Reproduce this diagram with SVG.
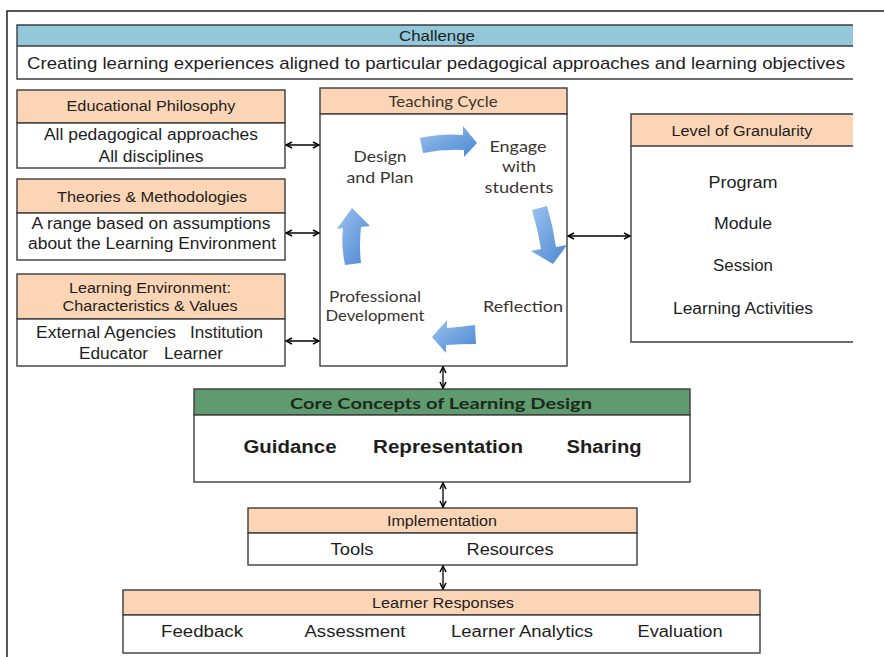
<svg xmlns="http://www.w3.org/2000/svg" width="884" height="657" viewBox="0 0 884 657">
<style>
.box{stroke:#3c3c3c;stroke-width:1.4;fill:#fff}
.peach{fill:#fbd5b5;stroke:#3c3c3c;stroke-width:1.4}
.ln{stroke:#3c3c3c;stroke-width:1.4;fill:none}
.t{font-family:"Liberation Sans",Arial,sans-serif;fill:#1e1e1e;text-anchor:middle}
.s{text-anchor:start}
.h{font-size:14px}
.b{font-size:16px}
.c{font-family:Lato,"Noto Sans",sans-serif;fill:#3a3530;font-size:16px;text-anchor:middle}
.bold{font-weight:bold;font-size:18px}
.con{stroke:#000;stroke-width:1.3;fill:none;marker-start:url(#ah);marker-end:url(#ah)}
.cyc{fill:url(#blue)}
</style>
<defs>
<marker id="ah" viewBox="0 0 8 8" refX="7" refY="4" markerWidth="8" markerHeight="8" markerUnits="userSpaceOnUse" orient="auto-start-reverse">
<path d="M1,1 L7,4 L1,7" fill="none" stroke="#000" stroke-width="1.5"/>
</marker>
<linearGradient id="blue" x1="0" y1="0" x2="1" y2="1">
<stop offset="0" stop-color="#9cc2ee"/>
<stop offset="1" stop-color="#4a86d2"/>
</linearGradient>
</defs>
<rect width="884" height="657" fill="#fff"/>
<path d="M884,11 H7 V657" fill="none" stroke="#222" stroke-width="1.5"/>

<g id="challenge">
<rect x="17" y="25" width="836" height="21" fill="#93c8da"/>
<rect x="17" y="46" width="836" height="33" fill="#fff"/>
<path class="ln" d="M853,25 H17 V79 H853 M17,46 H853"/>
<text class="t h" x="437" y="41" textLength="76" lengthAdjust="spacingAndGlyphs">Challenge</text>
<text class="t s" x="27" y="69" font-size="17" textLength="818" lengthAdjust="spacingAndGlyphs">Creating learning experiences aligned to particular pedagogical approaches and learning objectives</text>
</g>

<g id="educational-philosophy">
<rect class="peach" x="17" y="90" width="268" height="33"/>
<rect class="box" x="17" y="123" width="268" height="45"/>
<text class="t h" x="151" y="111" textLength="169" lengthAdjust="spacingAndGlyphs">Educational Philosophy</text>
<text class="t b" x="151" y="140" textLength="214" lengthAdjust="spacingAndGlyphs">All pedagogical approaches</text>
<text class="t b" x="151" y="162" textLength="105" lengthAdjust="spacingAndGlyphs">All disciplines</text>
</g>

<g id="theories">
<rect class="peach" x="17" y="179" width="268" height="34"/>
<rect class="box" x="17" y="213" width="268" height="47"/>
<text class="t h" x="152" y="202" textLength="190" lengthAdjust="spacingAndGlyphs">Theories &amp; Methodologies</text>
<text class="t b" x="151" y="229" textLength="239" lengthAdjust="spacingAndGlyphs">A range based on assumptions</text>
<text class="t b" x="152" y="249" textLength="248" lengthAdjust="spacingAndGlyphs">about the Learning Environment</text>
</g>

<g id="learning-environment">
<rect class="peach" x="17" y="274" width="268" height="45"/>
<rect class="box" x="17" y="319" width="268" height="47"/>
<text class="t h" x="150" y="293" textLength="162" lengthAdjust="spacingAndGlyphs">Learning Environment:</text>
<text class="t h" x="150" y="311" textLength="175" lengthAdjust="spacingAndGlyphs">Characteristics &amp; Values</text>
<text class="t b s" x="36" y="338" textLength="140" lengthAdjust="spacingAndGlyphs">External Agencies</text>
<text class="t b s" x="190" y="338" textLength="73" lengthAdjust="spacingAndGlyphs">Institution</text>
<text class="t b s" x="79" y="359" textLength="69" lengthAdjust="spacingAndGlyphs">Educator</text>
<text class="t b s" x="164" y="359" textLength="59" lengthAdjust="spacingAndGlyphs">Learner</text>
</g>

<g id="teaching-cycle">
<rect class="peach" x="320" y="88" width="247" height="26"/>
<rect class="box" x="320" y="114" width="247" height="252"/>
<text class="c" x="443" y="107" font-size="15" fill="#222" textLength="109" lengthAdjust="spacingAndGlyphs">Teaching Cycle</text>
<text class="c" x="380" y="162" textLength="53" lengthAdjust="spacingAndGlyphs">Design</text>
<text class="c" x="380" y="183" textLength="67" lengthAdjust="spacingAndGlyphs">and Plan</text>
<text class="c" x="518" y="152" textLength="57" lengthAdjust="spacingAndGlyphs">Engage</text>
<text class="c" x="519" y="172" textLength="34" lengthAdjust="spacingAndGlyphs">with</text>
<text class="c" x="519" y="193" textLength="69" lengthAdjust="spacingAndGlyphs">students</text>
<text class="c" x="523" y="312" textLength="80" lengthAdjust="spacingAndGlyphs">Reflection</text>
<text class="c" x="375" y="302" textLength="92" lengthAdjust="spacingAndGlyphs">Professional</text>
<text class="c" x="375" y="321" textLength="99" lengthAdjust="spacingAndGlyphs">Development</text>
<path class="cyc" d="M420,138 Q442,133 463,135 L463,126 L477,143 L464,157 L464,150 Q443,149 423,153 Z"/>
<path class="cyc" d="M532,210 L547,206 Q553,226 556,247 L567,245 L553,264 L531,251 L541,249 Q538,230 532,210 Z"/>
<path class="cyc" d="M475,325 Q460,327 447,328 L447,320 L432,337 L446,353 L446,345 Q461,344 476,344 Z"/>
<path class="cyc" d="M345,265 Q341,246 343,228 L337,229 L352,208 L370,226 L361,227 Q359,246 361,263 Z"/>
</g>

<g id="level-of-granularity">
<rect x="631" y="114" width="222" height="32" fill="#fbd5b5"/>
<rect x="631" y="146" width="222" height="196" fill="#fff"/>
<path class="ln" d="M853,114 H631 V342 H853 M631,146 H853"/>
<text class="t h" x="742" y="136" textLength="141" lengthAdjust="spacingAndGlyphs">Level of Granularity</text>
<text class="t b" x="743" y="188" textLength="69" lengthAdjust="spacingAndGlyphs">Program</text>
<text class="t b" x="743" y="229" textLength="58" lengthAdjust="spacingAndGlyphs">Module</text>
<text class="t b" x="743" y="271" textLength="60" lengthAdjust="spacingAndGlyphs">Session</text>
<text class="t b" x="743" y="314" textLength="140" lengthAdjust="spacingAndGlyphs">Learning Activities</text>
</g>

<g id="core-concepts">
<rect x="194" y="389" width="496" height="26" fill="#5f9b6f" stroke="#3c3c3c" stroke-width="1.4"/>
<rect class="box" x="194" y="415" width="496" height="67"/>
<text x="441" y="409" font-family="Lato,'Noto Sans',sans-serif" font-weight="bold" font-size="16" fill="#1c2a1c" text-anchor="middle" textLength="302" lengthAdjust="spacingAndGlyphs">Core Concepts of Learning Design</text>
<text class="t bold" x="290" y="453" textLength="93" lengthAdjust="spacingAndGlyphs">Guidance</text>
<text class="t bold" x="448" y="453" textLength="150" lengthAdjust="spacingAndGlyphs">Representation</text>
<text class="t bold" x="604" y="453" textLength="75" lengthAdjust="spacingAndGlyphs">Sharing</text>
</g>

<g id="implementation">
<rect class="peach" x="248" y="508" width="389" height="25"/>
<rect class="box" x="248" y="533" width="389" height="32"/>
<text class="t h" x="442" y="526" textLength="110" lengthAdjust="spacingAndGlyphs">Implementation</text>
<text class="t b" x="352" y="555" textLength="43" lengthAdjust="spacingAndGlyphs">Tools</text>
<text class="t b" x="510" y="555" textLength="87" lengthAdjust="spacingAndGlyphs">Resources</text>
</g>

<g id="learner-responses">
<rect class="peach" x="123" y="590" width="637" height="25"/>
<rect class="box" x="123" y="615" width="637" height="38"/>
<text class="t h" x="443" y="608" textLength="142" lengthAdjust="spacingAndGlyphs">Learner Responses</text>
<text class="t b" x="202" y="637" textLength="82" lengthAdjust="spacingAndGlyphs">Feedback</text>
<text class="t b" x="355" y="637" textLength="101" lengthAdjust="spacingAndGlyphs">Assessment</text>
<text class="t b" x="522" y="637" textLength="142" lengthAdjust="spacingAndGlyphs">Learner Analytics</text>
<text class="t b" x="680" y="637" textLength="85" lengthAdjust="spacingAndGlyphs">Evaluation</text>
</g>

<g id="connectors">
<line class="con" x1="286" y1="145" x2="319" y2="145"/>
<line class="con" x1="286" y1="233" x2="319" y2="233"/>
<line class="con" x1="286" y1="341" x2="319" y2="341"/>
<line class="con" x1="568" y1="236" x2="630" y2="236"/>
<line class="con" x1="443" y1="367" x2="443" y2="388"/>
<line class="con" x1="443" y1="483" x2="443" y2="507"/>
<line class="con" x1="443" y1="566" x2="443" y2="589"/>
</g>
</svg>
